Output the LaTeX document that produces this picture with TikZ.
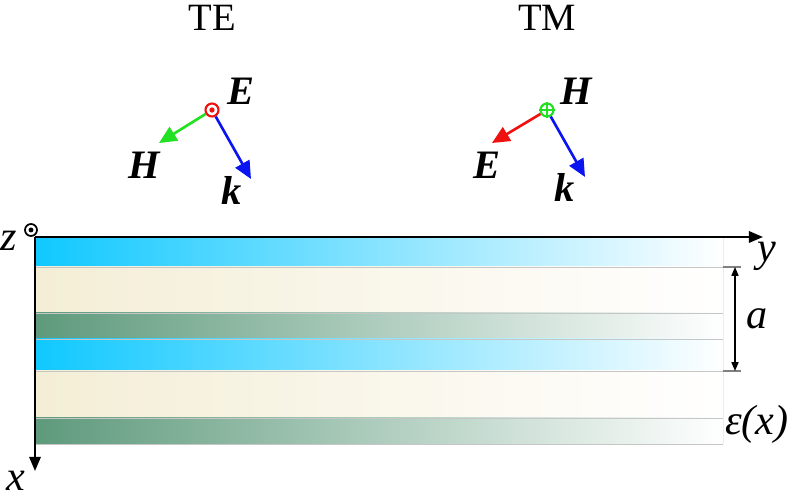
\documentclass[tikz,border=0pt]{standalone}
\usepackage{fontspec}
\setmainfont{Liberation Serif}
\usetikzlibrary{arrows.meta}
\definecolor{layerblue}{HTML}{10C8FF}
\definecolor{layercream}{HTML}{F4EED6}
\definecolor{layergreen}{HTML}{5E9A7C}
\definecolor{fieldgreen}{HTML}{22E022}
\definecolor{fieldred}{HTML}{F01010}
\definecolor{fieldblue}{HTML}{0A14F0}
\tikzset{
	vec/.style={line width=1.5pt, -{Triangle[length=10pt,width=9pt]}},
	axis/.style={line width=1.1pt, -{Triangle[length=8pt,width=6.5pt]}},
	vlbl/.style={font=\fontsize{23}{26}\selectfont\bfseries\itshape, inner sep=0pt},
	albl/.style={font=\fontsize{24}{26}\selectfont\itshape, inner sep=0pt},
	mode/.style={font=\fontsize{22}{24}\selectfont, inner sep=0pt},
	pol/.style={circle, draw=#1, line width=1.2pt, minimum size=0.26cm, inner sep=0pt},
}
\begin{document}
\begin{tikzpicture}[x=0.02cm, y=-0.02cm]
		\useasboundingbox (0,0) rectangle (789,499);

		% layers
		\foreach \ytop/\ybot/\col in {237/267/layerblue, 267/313/layercream, 313/339/layergreen,
			339/371/layerblue, 371/418/layercream, 418/444/layergreen}
			\shade[left color=\col, middle color=\col!70!white, right color=white] (35,\ytop) rectangle (723,\ybot);
		\foreach \yb in {267,313,339,371,418,444}
			\draw[gray!45, line width=0.3pt] (35,\yb) -- (723,\yb);
		\draw[gray!15, line width=0.3pt] (723,237) -- (723,444);

		% axes
		\coordinate (origin) at (35,237);
		\coordinate (yend) at (763,237);
		\coordinate (xend) at (35,471);
		\draw[axis] (origin) -- (yend);
		\draw[axis] (origin) -- (xend);
		\node[albl] (ylbl) at (767,256) {y};
		\node[albl] (xlbl) at (16,481) {x};
		\node[albl] (zlbl) at (9,241) {z};
		\node[circle, draw, line width=1pt, minimum size=0.24cm, inner sep=0pt] (zdot) at (31,230) {};
		\fill (zdot) circle (1.4pt);

		% period
		\draw[gray, line width=0.8pt] (723,267) -- (741,267);
		\draw[gray, line width=0.8pt] (723,371) -- (741,371);
		\coordinate (atop) at (735,267);
		\coordinate (abot) at (735,371);
		\draw[line width=0.7pt, {Triangle[length=5pt,width=4pt]}-{Triangle[length=5pt,width=4pt]}] (atop) -- (abot);
		\node[albl] (albl) at (757,319) {a};
		\node[albl] (epslbl) at (757,424) {ε(x)};

		% TE
		\node[mode] (te) at (212,18) {TE};
		\node[pol=fieldred] (tepol) at (212,110) {};
		\fill[fieldred] (tepol) circle (1.5pt);
		\coordinate (teH) at (159,143);
		\coordinate (tek) at (251,179);
		\draw[vec, fieldgreen] (tepol) -- (teH);
		\draw[vec, fieldblue] (tepol) -- (tek);
		\node[vlbl] (teElbl) at (241,91) {E};
		\node[vlbl] (teHlbl) at (144,165) {H};
		\node[vlbl] (teklbl) at (232,190) {k};

		% TM
		\node[mode] (tm) at (547,18) {TM};
		\node[pol=fieldgreen] (tmpol) at (547,110) {};
		\draw[fieldgreen, line width=1pt] (tmpol.north) -- (tmpol.south) (tmpol.west) -- (tmpol.east);
		\coordinate (tmE) at (492,143);
		\coordinate (tmk) at (585,177);
		\draw[vec, fieldred] (tmpol) -- (tmE);
		\draw[vec, fieldblue] (tmpol) -- (tmk);
		\node[vlbl] (tmHlbl) at (576,91) {H};
		\node[vlbl] (tmElbl) at (487,165) {E};
		\node[vlbl] (tmklbl) at (565,187) {k};
\end{tikzpicture}
\end{document}
